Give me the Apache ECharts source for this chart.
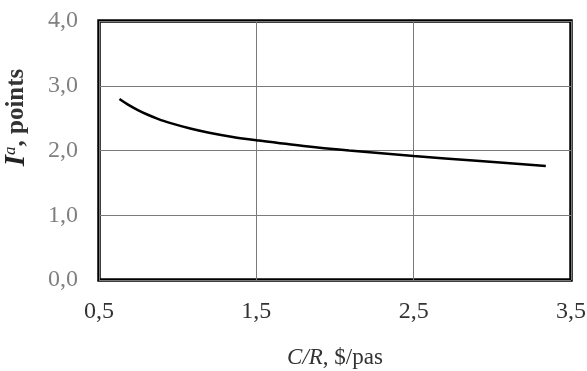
<!DOCTYPE html>
<html><head><meta charset="utf-8">
<script src="https://cdn.jsdelivr.net/npm/echarts@6/dist/echarts.min.js"></script>
<style>html,body{margin:0;padding:0;background:#fff}#c{width:587px;height:371px}</style>
</head><body><div id="c"></div>
<script>
const xValues = [0.63, 0.69, 0.75, 0.81, 0.87, 0.95, 1.08, 1.2, 1.35, 1.5, 1.8, 2.09, 2.5, 2.9, 3.34];
const yValues = [2.795, 2.70, 2.62, 2.552, 2.493, 2.426, 2.34, 2.275, 2.21, 2.16, 2.07, 2.00, 1.915, 1.84, 1.76];
const xTicks = [0.5, 1.5, 2.5, 3.5];
const yTicks = [0, 1, 2, 3, 4];

const fmt = v => v.toFixed(1).replace('.', ',');
const chart = echarts.init(document.getElementById('c'));
chart.setOption({
  animation: false,
  grid: { left: 99, right: 16, top: 21, bottom: 91, outerBoundsMode: 'none', containLabel: false,
          show: true, borderColor: '#000', borderWidth: 3.5, backgroundColor: 'transparent' },
  xAxis: {
    type: 'value', min: xTicks[0], max: xTicks[xTicks.length - 1], interval: 1,
    axisLine: { show: false }, axisTick: { show: false },
    splitLine: { lineStyle: { color: '#7a7a7a', width: 1 } },
    axisLabel: { formatter: fmt, color: '#333', fontFamily: 'Liberation Serif', fontSize: 24, margin: 20 },
    name: '{i|C/R}{n|, $/pas}', nameLocation: 'middle', nameGap: 66,
    nameTextStyle: { rich: {
      i: { fontFamily: 'Liberation Serif', fontStyle: 'italic', fontSize: 23, color: '#333' },
      n: { fontFamily: 'Liberation Serif', fontSize: 23, color: '#333' } } }
  },
  yAxis: {
    type: 'value', min: 0, max: 4, interval: 1,
    axisLine: { show: false }, axisTick: { show: false },
    splitLine: { lineStyle: { color: '#7a7a7a', width: 1 } },
    axisLabel: { formatter: fmt, color: '#808080', fontFamily: 'Liberation Serif', fontSize: 24, margin: 21 },
    name: '{i|I}{s|a}{n|, points}', nameLocation: 'middle', nameGap: 68,
    nameTextStyle: { padding: [0, 0, 0, 66], rich: {
      i: { fontFamily: 'Liberation Serif', fontStyle: 'italic', fontWeight: 'bold', fontSize: 29, color: '#222' },
      s: { fontFamily: 'Liberation Serif', fontStyle: 'italic', fontSize: 17, color: '#222', padding: [0, 0, 12, 0] },
      n: { fontFamily: 'Liberation Serif', fontWeight: 'bold', fontSize: 25, color: '#333' } } }
  },
  series: [{
    type: 'line', smooth: 0.3, showSymbol: false,
    data: xValues.map((x, i) => [x, yValues[i]]),
    lineStyle: { color: '#000', width: 2.5 }
  }]
});
</script></body></html>
